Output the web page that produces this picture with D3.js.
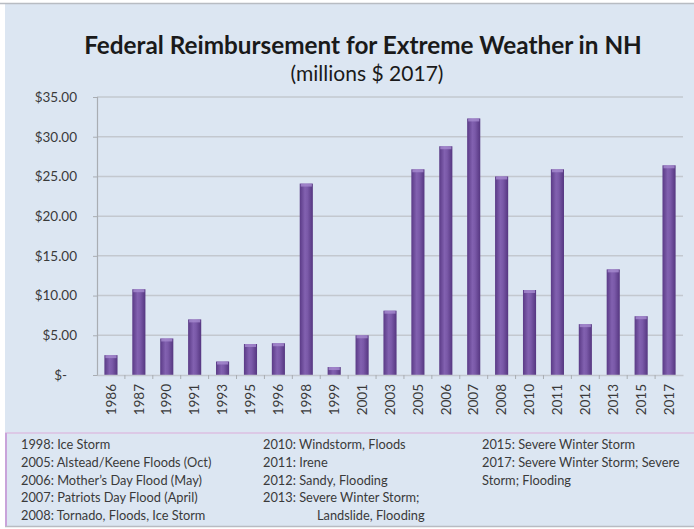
<!DOCTYPE html>
<html><head><meta charset="utf-8">
<script src="https://cdn.jsdelivr.net/npm/d3@7"></script>
<style>body{margin:0;background:#fff}svg{display:block}</style>
</head><body>
<svg id="c" width="694" height="529"></svg>
<script>
const years = ["1986","1987","1990","1991","1993","1995","1996","1998","1999","2001","2003","2005","2006","2007","2008","2010","2011","2012","2013","2015","2017"];
const values = [2.5,10.8,4.6,7.0,1.7,3.9,4.0,24.1,1.0,5.0,8.1,25.9,28.8,32.3,25.0,10.7,25.9,6.4,13.3,7.4,26.4];
const yTicks = [0,5,10,15,20,25,30,35];
const titleText = "Federal Reimbursement for Extreme Weather in NH";
const subtitleText = "(millions $ 2017)";
const notesCol1 = ["1998: Ice Storm","2005: Alstead/Keene Floods (Oct)","2006: Mother\u2019s Day Flood (May)","2007: Patriots Day Flood (April)","2008: Tornado, Floods, Ice Storm"];
const notesCol2 = ["2010: Windstorm, Floods","2011: Irene","2012: Sandy, Flooding","2013: Severe Winter Storm;","Landslide, Flooding"];
const notesCol3 = ["2015: Severe Winter Storm","2017: Severe Winter Storm; Severe","Storm; Flooding"];

const svg = d3.select("#c");
const font = "Lato, 'Open Sans', sans-serif";
const W = 694, H = 529;

// background
svg.append("rect").attr("x",5).attr("y",3).attr("width",W-5).attr("height",H-5).attr("fill","#dce6f2");
svg.append("line").attr("x1",0).attr("x2",W).attr("y1",3.5).attr("y2",3.5).attr("stroke","#b8bcc2").attr("stroke-width",1.5);
svg.append("line").attr("x1",5).attr("x2",W).attr("y1",526.5).attr("y2",526.5).attr("stroke","#b8bcc2").attr("stroke-width",1.5);

// gradient
const defs = svg.append("defs");
const g = defs.append("linearGradient").attr("id","barg").attr("x1","0").attr("x2","1").attr("y1","0").attr("y2","0");
g.append("stop").attr("offset","0%").attr("stop-color","#5a3a86");
g.append("stop").attr("offset","40%").attr("stop-color","#8261b0");
g.append("stop").attr("offset","60%").attr("stop-color","#7a59a8");
g.append("stop").attr("offset","100%").attr("stop-color","#553680");

const x = d3.scaleBand().domain(years).range([97,683]).paddingInner(0.53).paddingOuter(0.265);
const y = d3.scaleLinear().domain([0,35]).range([375,97]);

// gridlines
svg.append("g").selectAll("line").data(yTicks.slice(1)).join("line")
  .attr("x1",97).attr("x2",683).attr("y1",d=>y(d)).attr("y2",d=>y(d))
  .attr("stroke","#c3c8cf").attr("stroke-width",1.5);

// y axis
const ya = svg.append("g").attr("transform","translate(97,0)")
  .call(d3.axisLeft(y).tickValues(yTicks).tickSize(4).tickPadding(16)
    .tickFormat(d => d===0 ? "$-" : "$"+d.toFixed(2)));
ya.select(".domain").attr("stroke","#a9adb3").attr("stroke-width",1.2);
ya.selectAll(".tick line").attr("stroke","#a9adb3");
ya.selectAll("text").attr("font-family",font).attr("font-size",13.5).attr("fill","#3a3a3a");
ya.selectAll("text").filter(d=>d===0).attr("dx",-10);

// bars
svg.append("g").selectAll("rect").data(values).join("rect")
  .attr("x",(d,i)=>x(years[i])).attr("width",x.bandwidth())
  .attr("y",d=>y(d)).attr("height",d=>y(0)-y(d)).attr("fill","url(#barg)");
svg.append("g").selectAll("rect").data(values).join("rect")
  .attr("x",(d,i)=>x(years[i])+1).attr("width",x.bandwidth()-2)
  .attr("y",d=>y(d)).attr("height",3).attr("fill","#a68bd0").attr("opacity",0.8);

// x axis
const step = x.step();
const xa = svg.append("g").attr("transform","translate(0,375)")
  .call(d3.axisBottom(x).tickSize(0).tickPadding(0));
xa.select(".domain").attr("stroke","#c3c8cf").attr("stroke-width",1.5);
xa.selectAll("text").attr("font-family",font).attr("font-size",13.5).attr("fill","#3a3a3a")
  .attr("transform","translate(0,9) rotate(-90)").attr("text-anchor","end").attr("dy","0.35em").attr("y",0).attr("x",0);
svg.append("g").selectAll("line").data(years.slice(0,-1)).join("line")
  .attr("x1",d=>x(d)+x.bandwidth()/2+step/2).attr("x2",d=>x(d)+x.bandwidth()/2+step/2)
  .attr("y1",375).attr("y2",379).attr("stroke","#a9adb3");

// title
const t = svg.append("text").attr("x",363).attr("y",54).attr("text-anchor","middle")
  .attr("font-family",font).attr("font-weight","bold").attr("font-size",22).attr("fill","#1a1a1a").text(titleText);
const tw = t.node().getComputedTextLength(); t.attr("font-size",22*558/tw);
const s = svg.append("text").attr("x",367).attr("y",81).attr("text-anchor","middle")
  .attr("font-family",font).attr("font-size",16).attr("fill","#1a1a1a").text(subtitleText);
const sw = s.node().getComputedTextLength(); s.attr("font-size",16*153/sw);

// notes box
svg.append("line").attr("x1",5).attr("x2",W).attr("y1",433).attr("y2",433).attr("stroke","#dcc9e6").attr("stroke-width",2);
svg.append("line").attr("x1",6).attr("x2",6).attr("y1",433).attr("y2",526).attr("stroke","#c9a3da").attr("stroke-width",2);
function notes(arr, x0, indentIdx){
  svg.append("g").selectAll("text").data(arr).join("text")
    .attr("x",(d,i)=> i===indentIdx ? x0+54 : x0).attr("y",(d,i)=>449+i*17.8)
    .attr("font-family",font).attr("font-size",12.8).attr("fill","#3a3a3a").text(d=>d);
}
notes(notesCol1,21,-1); notes(notesCol2,263,4); notes(notesCol3,482,-1);
</script>
</body></html>
